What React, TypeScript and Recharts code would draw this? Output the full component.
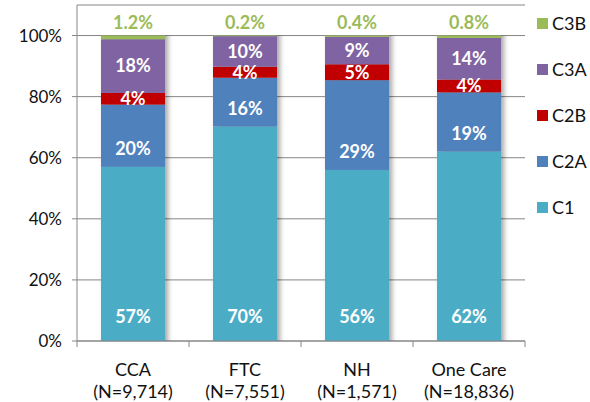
import React from 'react';
import { BarChart, Bar, XAxis, YAxis, CartesianGrid, LabelList } from 'recharts';

const categories = ['CCA', 'FTC', 'NH', 'One Care'];
const counts = ['(N=9,714)', '(N=7,551)', '(N=1,571)', '(N=18,836)'];
const c1 = [57.0, 70.2, 56.0, 62.0];
const c2a = [20.4, 16.0, 29.4, 19.4];
const c2b = [3.8, 3.6, 5.2, 4.2];
const c3a = [17.6, 10.0, 9.0, 13.6];
const c3b = [1.2, 0.2, 0.4, 0.8];
const yTicks = [0, 20, 40, 60, 80, 100];

const SERIES = [
  { key: 'C1', color: '#4BACC6' },
  { key: 'C2A', color: '#4F81BD' },
  { key: 'C2B', color: '#C00000' },
  { key: 'C3A', color: '#8064A2' },
  { key: 'C3B', color: '#9BBB59' },
];

const data = categories.map((name, i) => ({
  name,
  n: counts[i],
  C1: c1[i],
  C2A: c2a[i],
  C2B: c2b[i],
  C3A: c3a[i],
  C3B: c3b[i],
}));

const FONT = 'Lato, "Open Sans", sans-serif';
const AXIS = '#868686';

const pct = (v: any) => `${Math.round(Number(v))}%`;
const pct1 = (v: any) => `${Number(v).toFixed(1)}%`;

// shadow only to the right, so stacked segments don't darken each other
const ShadowRect = (props: any) => {
  const { x, y, width, height, fill } = props;
  if (!height) return null;
  return <rect x={x} y={y} width={width} height={height} fill={fill} filter="url(#barShadow)" />;
};

const XTick = (props: any) => {
  const { x, y, payload, index } = props;
  const half = payload && payload.offset ? payload.offset : 56;
  const last = index === categories.length - 1;
  return (
    <g>
      <line x1={x - half} x2={x - half} y1={y} y2={y + 6} stroke={AXIS} />
      {last && <line x1={x + half} x2={x + half} y1={y} y2={y + 6} stroke={AXIS} />}
      <text x={x} y={y + 35} textAnchor="middle" fill="#111" fontSize={18} fontFamily={FONT}>
        {payload.value}
      </text>
      <text x={x} y={y + 57} textAnchor="middle" fill="#111" fontSize={18} fontFamily={FONT}>
        {counts[index]}
      </text>
    </g>
  );
};

const labelStyle = { fill: '#fff', fontSize: 18, fontWeight: 700, fontFamily: FONT };

export default function App() {
  const legendItems = [...SERIES].reverse();
  return (
    <div style={{ position: 'absolute', left: 0, top: 0, width: 590, height: 402, background: '#fff' }}>
      <BarChart
        width={590}
        height={402}
        data={data}
        margin={{ top: 5, right: 65, bottom: 0, left: 0 }}
        barSize={64}
        style={{ fontFamily: FONT }}
      >
        <defs>
          <filter id="barShadow" x="-20%" y="0%" width="150%" height="100%">
            <feDropShadow dx="3" dy="0" stdDeviation="2.5 0" floodColor="#000" floodOpacity="0.35" />
          </filter>
        </defs>
        <CartesianGrid vertical={false} stroke={AXIS} strokeWidth={1} />
        <XAxis
          dataKey="name"
          height={61}
          axisLine={{ stroke: AXIS }}
          tickLine={false}
          tickSize={0}
          tickMargin={0}
          interval={0}
          tick={<XTick />}
        />
        <YAxis
          width={77}
          domain={[0, 110]}
          ticks={yTicks}
          tickFormatter={(v: number) => `${v}%`}
          axisLine={{ stroke: AXIS }}
          tickLine={{ stroke: AXIS }}
          tickSize={5}
          tickMargin={10}
          tick={{ fill: '#111', fontSize: 17, fontFamily: FONT }}
        />
        <Bar dataKey="C1" stackId="s" fill="#4BACC6" shape={<ShadowRect />} isAnimationActive={false}>
          <LabelList dataKey="C1" position="insideBottom" offset={18} formatter={pct} style={labelStyle} />
        </Bar>
        <Bar dataKey="C2A" stackId="s" fill="#4F81BD" shape={<ShadowRect />} isAnimationActive={false}>
          <LabelList dataKey="C2A" position="insideBottom" offset={12} formatter={pct} style={labelStyle} />
        </Bar>
        <Bar dataKey="C2B" stackId="s" fill="#C00000" shape={<ShadowRect />} isAnimationActive={false}>
          <LabelList dataKey="C2B" position="center" formatter={pct} style={labelStyle} />
        </Bar>
        <Bar dataKey="C3A" stackId="s" fill="#8064A2" shape={<ShadowRect />} isAnimationActive={false}>
          <LabelList dataKey="C3A" position="center" formatter={pct} style={labelStyle} />
        </Bar>
        <Bar dataKey="C3B" stackId="s" fill="#9BBB59" shape={<ShadowRect />} isAnimationActive={false}>
          <LabelList
            dataKey="C3B"
            position="top"
            offset={7}
            formatter={pct1}
            style={{ ...labelStyle, fill: '#9BBB59' }}
          />
        </Bar>
      </BarChart>
      <div style={{ position: 'absolute', left: 537, top: 0, fontFamily: FONT, fontSize: 18, color: '#111' }}>
        {legendItems.map((s, i) => (
          <div
            key={s.key}
            style={{ position: 'absolute', top: 12 + i * 46, left: 0, display: 'flex', alignItems: 'center', height: 22 }}
          >
            <span style={{ width: 11, height: 11, background: s.color, display: 'inline-block', marginRight: 4 }} />
            <span>{s.key}</span>
          </div>
        ))}
      </div>
    </div>
  );
}
